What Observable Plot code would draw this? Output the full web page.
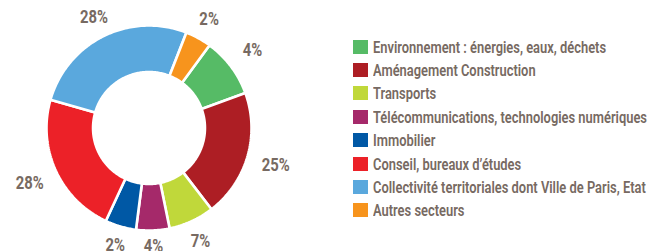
<!DOCTYPE html>
<html>
<head>
<meta charset="utf-8">
<script src="https://cdn.jsdelivr.net/npm/d3@7"></script>
<script src="https://cdn.jsdelivr.net/npm/@observablehq/plot@0.6"></script>
<style>
  html, body { margin: 0; padding: 0; background: #fff; }
  #wrap { position: relative; width: 649px; height: 251px; overflow: hidden; }
  #chart { position: absolute; left: 0; top: 0; }
  #legend { position: absolute; left: 353px; top: 35px; font-family: Roboto, "Noto Sans", sans-serif; font-size: 17px; font-weight: 600; color: #776a62; }
  .row { display: flex; align-items: center; height: 23.4px; white-space: nowrap; }
  .sw { width: 15px; height: 14px; margin-right: 4.5px; flex: none; }
  .lbl { display: inline-block; transform-origin: 0 50%; }
</style>
</head>
<body>
<div id="wrap"><div id="chart"></div><div id="legend"></div></div>
<script>
// Sectors, in legend order (clockwise starting from the green slice)
const categories = [
  "Environnement : énergies, eaux, déchets",
  "Aménagement Construction",
  "Transports",
  "Télécommunications, technologies numériques",
  "Immobilier",
  "Conseil, bureaux d’études",
  "Collectivité territoriales dont Ville de Paris, Etat",
  "Autres secteurs"
];
// Slice sizes as drawn in the picture (share of the ring)
const sliceValues = [9.4, 20.1, 7.2, 5.25, 4.9, 22.5, 26.5, 4.1];
// Printed percentage labels
const labels = ["4%", "25%", "7%", "4%", "2%", "28%", "28%", "2%"];
const colors = ["#56bb66", "#ad1e24", "#c0d83a", "#a5296a", "#0058a5", "#ec2128", "#5aa8dd", "#f7941d"];

const startDeg = 36.2;
const cx = 148.5, cy = 127.5, R = 102.5, innerFrac = 0.546;

const pie = d3.pie().sort(null).value(d => d)
  .startAngle(startDeg * Math.PI / 180)
  .endAngle((startDeg + 360) * Math.PI / 180);
const arcs = pie(sliceValues);

function ring(a0, a1) {
  const pts = [];
  const n = Math.max(8, Math.ceil((a1 - a0) / (Math.PI / 180)));
  for (let i = 0; i <= n; i++) {
    const a = a0 + (a1 - a0) * i / n;
    pts.push({x: Math.sin(a), y: Math.cos(a)});
  }
  for (let i = n; i >= 0; i--) {
    const a = a0 + (a1 - a0) * i / n;
    pts.push({x: innerFrac * Math.sin(a), y: innerFrac * Math.cos(a)});
  }
  return pts;
}

const sliceMarks = arcs.map((a, i) =>
  Plot.line(ring(a.startAngle, a.endAngle), {
    x: "x", y: "y", fill: colors[i], stroke: "white", strokeWidth: 2.6,
    strokeLinejoin: "miter", curve: "linear-closed"
  })
);

const labelData = arcs.map((a, i) => {
  const m = (a.startAngle + a.endAngle) / 2;
  const r = (117.5 + 15 * Math.abs(Math.sin(m))) / R;
  return {x: r * Math.sin(m), y: r * Math.cos(m), t: labels[i]};
});

const chart = Plot.plot({
  width: 649,
  height: 251,
  margin: 0,
  x: {domain: [-1, 1], range: [cx - R, cx + R], axis: null},
  y: {domain: [-1, 1], range: [cy + R, cy - R], axis: null},
  style: {background: "white", overflow: "visible"},
  marks: [
    ...sliceMarks,
    Plot.text(labelData, {
      x: "x", y: "y", text: "t", fill: "#776a62", fontSize: 19, fontWeight: "bold",
      fontFamily: "Roboto, sans-serif",
      textAnchor: "middle", lineAnchor: "middle"
    })
  ]
});
document.getElementById("chart").appendChild(chart);
// condense the percentage labels horizontally
d3.select(chart).selectAll("text").each(function() {
  const w = this.getComputedTextLength();
  this.setAttribute("textLength", (w * 0.78).toFixed(1));
  this.setAttribute("lengthAdjust", "spacingAndGlyphs");
});

const legend = d3.select("#legend");
categories.forEach((c, i) => {
  const row = legend.append("div").attr("class", "row");
  row.append("div").attr("class", "sw").style("background", colors[i]);
  row.append("span").attr("class", "lbl").text(c);
});
// condense legend text so the longest entry matches the reference width
const spans = legend.selectAll("span.lbl").nodes();
const longest = spans[3].getBoundingClientRect().width;
const k = 274 / longest;
spans.forEach(s => s.style.transform = `scaleX(${k})`);
</script>
</body>
</html>
